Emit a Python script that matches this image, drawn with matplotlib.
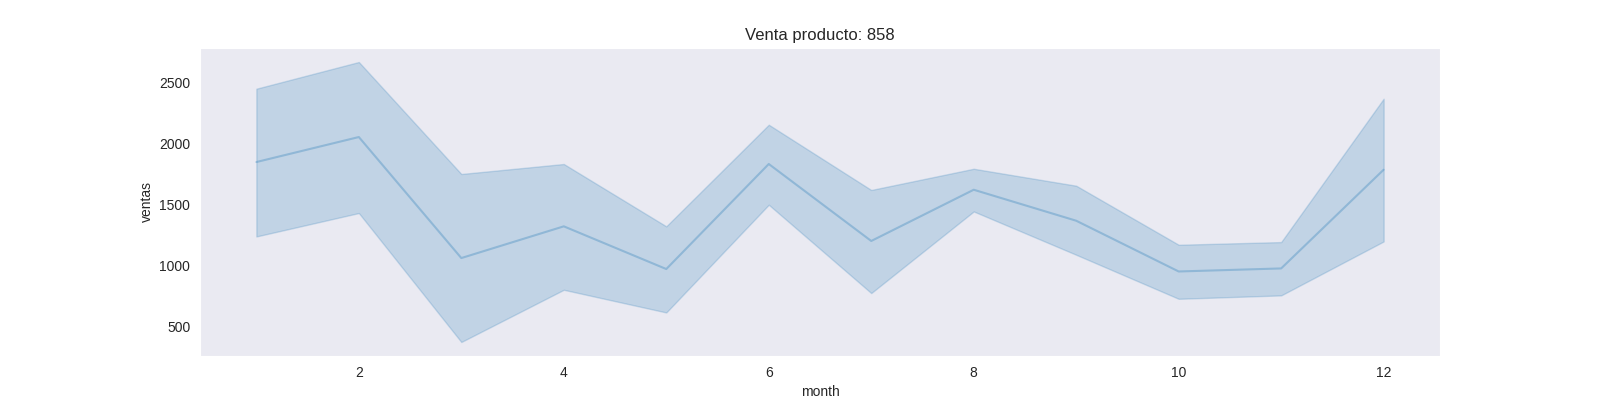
import numpy as np
import matplotlib
matplotlib.use("Agg")
import matplotlib.pyplot as plt
import seaborn as sns

# monthly sales of product 858: mean and 95% CI band
months = [1, 2, 3, 4, 5, 6, 7, 8, 9, 10, 11, 12]
ventas_mean = [1847, 2052, 1060, 1320, 970, 1831, 1200, 1620, 1366, 950, 975, 1784]
ventas_low = [1237, 1429, 372, 800, 614, 1497, 773, 1442, 1087, 726, 754, 1196]
ventas_high = [2448, 2667, 1749, 1831, 1320, 2153, 1618, 1792, 1653, 1169, 1191, 2366]

sns.set_style("dark")
plt.rcParams['font.family'] = ['Liberation Sans', 'DejaVu Sans']

color = '#1f77b4'
fig, ax = plt.subplots(figsize=(16, 4), dpi=100)
ax.fill_between(months, ventas_low, ventas_high, color=color, alpha=0.2, linewidth=1)
ax.plot(months, ventas_mean, color=color, alpha=0.3, linewidth=1.5)

ax.set_title('Venta producto: 858')
ax.set_xlabel('month')
ax.set_ylabel('ventas')
ax.set_xticks([2, 4, 6, 8, 10, 12])
ax.set_yticks([500, 1000, 1500, 2000, 2500])

plt.savefig("out.png", dpi=100)
